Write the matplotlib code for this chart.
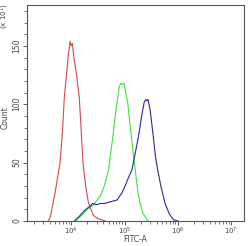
import numpy as np
import matplotlib
matplotlib.use("Agg")
import matplotlib.pyplot as plt
from matplotlib.ticker import LogLocator, NullFormatter, MultipleLocator

# Data (log10 of FITC-A, count in units of 10^1)
red_logx = [3.57, 3.61, 3.70, 3.79, 3.84, 3.87, 3.92, 3.95, 3.98, 4.00, 4.02, 4.05, 4.10, 4.15, 4.19, 4.22, 4.27, 4.32, 4.41, 4.50, 4.64]
red_count = [0, 4, 25, 50, 80, 106, 130, 144, 154, 150, 152, 140, 125, 106, 75, 50, 30, 16, 5, 2, 0]

green_logx = [4.08, 4.20, 4.30, 4.40, 4.54, 4.62, 4.70, 4.78, 4.84, 4.90, 4.93, 4.96, 4.99, 5.03, 5.06, 5.12, 5.20, 5.25, 5.29, 5.35, 5.44]
green_count = [0, 5, 10, 13, 21, 30, 44, 72, 95, 115, 118, 117, 118, 108, 101, 75, 44, 25, 15, 6, 0]

blue_logx = [4.06, 4.15, 4.25, 4.36, 4.40, 4.48, 4.55, 4.62, 4.70, 4.78, 4.86, 4.95, 5.01, 5.08, 5.14, 5.20, 5.26, 5.32, 5.37, 5.40, 5.42, 5.44, 5.48, 5.54, 5.58, 5.62, 5.68, 5.76, 5.84, 5.92, 6.00]
blue_count = [0, 4, 9, 13, 15, 14, 15, 15, 16, 17, 18, 24, 30, 38, 44, 58, 72, 90, 102, 104, 103, 104, 95, 72, 55, 44, 30, 15, 6, 1, 0]

y_ticks = [0, 50, 100, 150]

fig = plt.figure(figsize=(2.5, 2.46), dpi=100)
ax = fig.add_axes([27/250, 1 - 221/246, (244 - 27)/250, (221 - 5)/246])

ax.plot(10 ** np.array(red_logx), red_count, color="#d24a4a", lw=0.8)
ax.plot(10 ** np.array(green_logx), green_count, color="#3ee03e", lw=0.8)
ax.plot(10 ** np.array(blue_logx), blue_count, color="#2b2b8f", lw=0.8)

ax.set_xscale("log")
ax.set_xlim(10 ** 3.17, 10 ** 7.24)
ax.set_ylim(0, 185)

ax.xaxis.set_major_locator(LogLocator(base=10, numticks=10))
ax.xaxis.set_minor_locator(LogLocator(base=10, subs=np.arange(2, 10), numticks=20))
ax.xaxis.set_minor_formatter(NullFormatter())
ax.set_yticks(y_ticks)
ax.yaxis.set_minor_locator(MultipleLocator(10))

for s in ax.spines.values():
    s.set_color("#555555")
    s.set_linewidth(0.8)

ax.tick_params(axis="both", which="major", labelsize=5.5, colors="#444444", length=3, width=0.6, pad=1)
ax.tick_params(axis="x", which="major", labelsize=5, pad=0.5)
ax.tick_params(axis="both", which="minor", length=2, width=0.5, colors="#444444")
for lbl in ax.get_yticklabels():
    lbl.set_rotation(90)
    lbl.set_va("center")

fig.text(135/250, 1 - 240/246, "FITC-A", fontsize=5.5, color="#444444", ha="center", va="center")
fig.text(5/250, 1 - 118/246, "Count", rotation=90, fontsize=5.5, color="#444444", ha="center", va="center")
fig.text(5/250, 1 - 16/246, "(x 10$^1$)", rotation=90, fontsize=5, color="#444444", ha="center", va="center")

fig.savefig("out.png", dpi=100)
